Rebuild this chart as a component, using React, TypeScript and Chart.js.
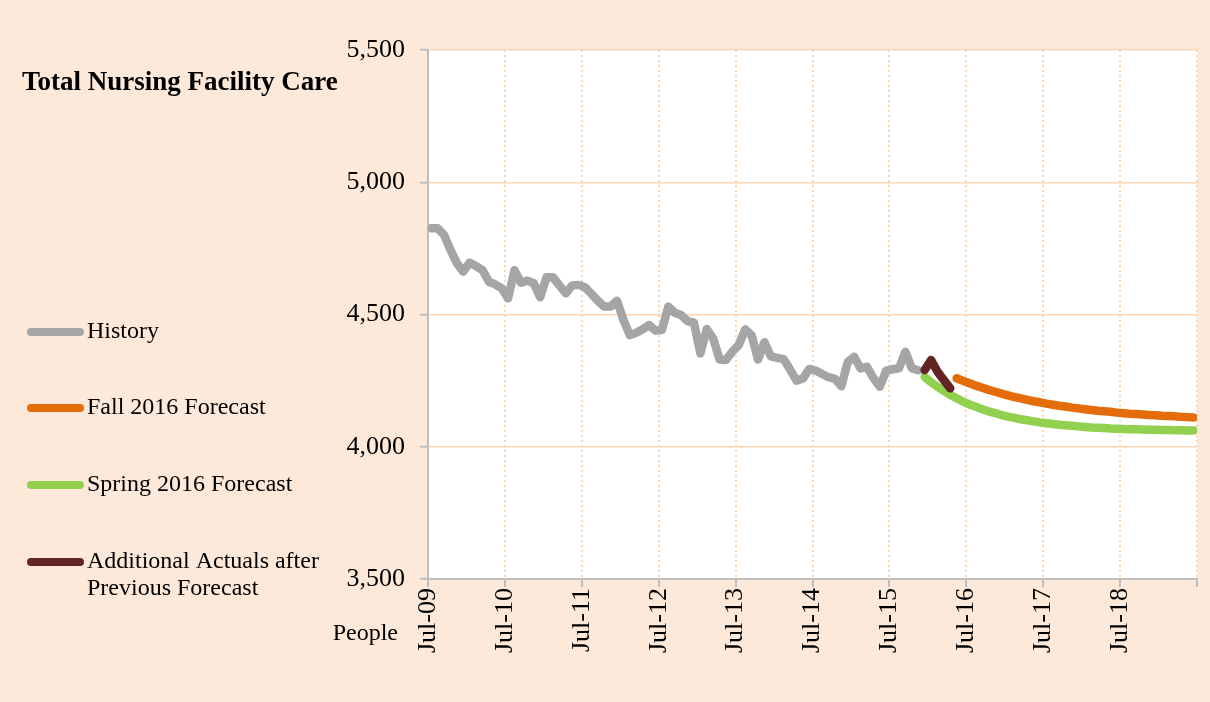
import React, { useEffect, useRef } from "react";
import { Chart, registerables } from "chart.js";

Chart.register(...registerables);

// ---- data ----
const tickLabels = ["Jul-09", "Jul-10", "Jul-11", "Jul-12", "Jul-13", "Jul-14", "Jul-15", "Jul-16", "Jul-17", "Jul-18"];
const monthsPerTick = 12;
const totalMonths = 120;

const yMin = 3500;
const yMax = 5500;
const yStep = 500;

const historyStart = 0; // Jul-09
const history = [
  4826, 4826, 4801, 4744, 4694, 4662, 4696, 4683, 4668, 4624, 4614, 4599,
  4561, 4668, 4620, 4628, 4618, 4565, 4641, 4641, 4610, 4580, 4610, 4612,
  4603, 4578, 4552, 4530, 4530, 4552, 4479, 4422, 4431, 4444, 4460, 4439,
  4441, 4530, 4507, 4498, 4475, 4469, 4353, 4445, 4410, 4330, 4328, 4360,
  4385, 4444, 4421, 4330, 4395, 4342, 4336, 4331, 4292, 4250, 4258, 4294,
  4288, 4275, 4263, 4257, 4229, 4320, 4340, 4296, 4302, 4260, 4227, 4288,
  4293, 4297, 4359, 4297, 4289,
];

const actualsStart = 77; // Dec-15
const actuals = [4290, 4328, 4284, 4252, 4221];

const springStart = 77; // Dec-15
const spring = [
  4264, 4244, 4227, 4211, 4196, 4183, 4171, 4160, 4151, 4142, 4134, 4127,
  4120, 4114, 4109, 4104, 4100, 4096, 4092, 4089, 4086, 4083, 4081, 4079,
  4077, 4075, 4073, 4072, 4071, 4069, 4068, 4067, 4066, 4066, 4065, 4064,
  4064, 4063, 4063, 4062, 4062, 4061, 4061,
];

const fallStart = 82; // May-16
const fall = [
  4259, 4249, 4240, 4231, 4223, 4215, 4208, 4201, 4194, 4188, 4183, 4177,
  4172, 4168, 4163, 4159, 4155, 4152, 4148, 4145, 4142, 4139, 4136, 4134,
  4132, 4129, 4127, 4125, 4124, 4122, 4120, 4119, 4117, 4116, 4115, 4113,
  4112, 4111,
];

const seriesNames = ["History", "Fall 2016 Forecast", "Spring 2016 Forecast", "Additional Actuals after Previous Forecast"];
const legendLines = [["History"], ["Fall 2016 Forecast"], ["Spring 2016 Forecast"], ["Additional Actuals after", "Previous Forecast"]];

const titleText = "Total Nursing Facility Care";
const unitText = "People";

// ---- styles ----
const COLORS = {
  history: "#A5A5A5",
  fall: "#E46C0A",
  spring: "#92D050",
  actuals: "#632523",
  page: "#FDE9D9",
  plot: "#FFFFFF",
  grid: "#FCD5B5",
  axis: "#BFBFBF",
  text: "#000000",
};
const FONT = "'Liberation Serif', 'Times New Roman', serif";

function toPoints(start: number, values: number[]) {
  return values.map((v, k) => ({ x: start + k + 0.5, y: v }));
}

const backgroundPlugin = {
  id: "bg",
  beforeDraw(chart: any) {
    const { ctx, chartArea } = chart;
    ctx.save();
    ctx.fillStyle = COLORS.page;
    ctx.fillRect(0, 0, chart.width, chart.height);
    ctx.fillStyle = COLORS.plot;
    ctx.fillRect(chartArea.left, chartArea.top, chartArea.right - chartArea.left, chartArea.bottom - chartArea.top);
    ctx.restore();
  },
};

const textPlugin = {
  id: "texts",
  afterDraw(chart: any) {
    const { ctx } = chart;
    ctx.save();
    // title
    ctx.fillStyle = COLORS.text;
    ctx.font = `bold 27px ${FONT}`;
    ctx.textAlign = "left";
    ctx.textBaseline = "alphabetic";
    ctx.fillText(titleText, 22, 90);

    // unit label
    ctx.font = `24px ${FONT}`;
    ctx.textAlign = "right";
    ctx.textBaseline = "middle";
    ctx.fillText(unitText, 398, 634);

    // legend
    const colors = [COLORS.history, COLORS.fall, COLORS.spring, COLORS.actuals];
    const centers = [332, 408, 485, 562];
    legendLines.forEach((lines, i) => {
      const cy = centers[i];
      ctx.strokeStyle = colors[i];
      ctx.lineWidth = 8;
      ctx.lineCap = "round";
      ctx.beginPath();
      ctx.moveTo(31, cy);
      ctx.lineTo(80, cy);
      ctx.stroke();
      ctx.fillStyle = COLORS.text;
      ctx.font = `24px ${FONT}`;
      ctx.textAlign = "left";
      ctx.textBaseline = "middle";
      lines.forEach((t, j) => ctx.fillText(t, 87, cy + j * 27));
    });
    ctx.restore();
  },
};

export default function App() {
  const canvasRef = useRef<HTMLCanvasElement | null>(null);

  useEffect(() => {
    if (!canvasRef.current) return;
    const lineStyle = {
      borderWidth: 8.5,
      borderCapStyle: "round" as const,
      borderJoinStyle: "round" as const,
      pointRadius: 0,
      tension: 0,
      fill: false,
    };
    const chart = new Chart(canvasRef.current, {
      type: "line",
      data: {
        datasets: [
          { label: seriesNames[0], data: toPoints(historyStart, history), borderColor: COLORS.history, order: 1, ...lineStyle },
          { label: seriesNames[1], data: toPoints(fallStart, fall), borderColor: COLORS.fall, order: 3, ...lineStyle },
          { label: seriesNames[2], data: toPoints(springStart, spring), borderColor: COLORS.spring, order: 2, ...lineStyle },
          { label: seriesNames[3], data: toPoints(actualsStart, actuals), borderColor: COLORS.actuals, order: 0, ...lineStyle },
        ],
      },
      options: {
        animation: false,
        responsive: false,
        devicePixelRatio: 1,
        layout: { padding: { left: 0, right: 13, top: 50, bottom: 0 } },
        plugins: {
          legend: { display: false },
          tooltip: { enabled: false },
          title: { display: false },
        },
        scales: {
          x: {
            type: "linear",
            min: 0,
            max: totalMonths,
            ticks: {
              stepSize: monthsPerTick,
              autoSkip: false,
              maxRotation: 90,
              minRotation: 90,
              padding: 1,
              color: COLORS.text,
              font: { family: FONT, size: 26 },
              callback: (v: any) => tickLabels[Math.round(Number(v) / monthsPerTick)] ?? "",
            },
            grid: {
              color: (c: any) => (c.tick && c.tick.value === 0 ? "rgba(0,0,0,0)" : COLORS.grid),
              lineWidth: 2,
              tickColor: COLORS.axis,
              tickLength: 8,
              tickWidth: 2,
            },
            border: { color: COLORS.axis, width: 2, dash: [2, 3] },
            afterFit: (s: any) => {
              s.height = 123;
              s.paddingLeft = 0;
              s.paddingRight = 0;
            },
          },
          y: {
            min: yMin,
            max: yMax,
            ticks: {
              stepSize: yStep,
              padding: 15,
              color: COLORS.text,
              font: { family: FONT, size: 26 },
              callback: (v: any) => Number(v).toLocaleString("en-US"),
            },
            grid: {
              color: (c: any) => (c.tick && c.tick.value === yMin ? "rgba(0,0,0,0)" : COLORS.grid),
              lineWidth: 1.5,
              tickColor: COLORS.axis,
              tickLength: 8,
              tickWidth: 2,
            },
            border: { color: COLORS.axis, width: 2 },
            afterFit: (s: any) => {
              s.width = 428;
              s.paddingTop = 0;
              s.paddingBottom = 0;
            },
          },
        },
      } as any,
      plugins: [backgroundPlugin, textPlugin],
    });
    return () => chart.destroy();
  }, []);

  return (
    <div style={{ position: "absolute", left: 0, top: 0, width: 1210, height: 702, background: COLORS.page }}>
      <canvas ref={canvasRef} width={1210} height={702} style={{ width: 1210, height: 702, display: "block" }} />
    </div>
  );
}
